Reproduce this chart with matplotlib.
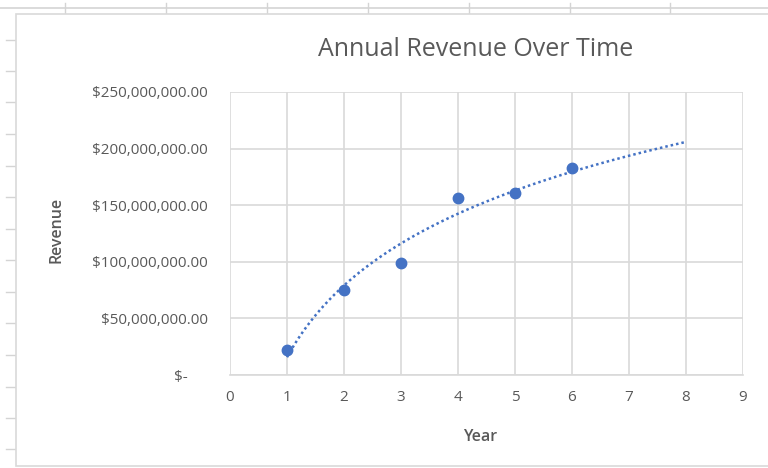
import numpy as np
import matplotlib
matplotlib.use("Agg")
import matplotlib.pyplot as plt
from matplotlib.ticker import FuncFormatter, MultipleLocator
from matplotlib.lines import Line2D
from matplotlib.patches import Rectangle

# Datos anuales
years = np.array([1, 2, 3, 4, 5, 6])
revenue = np.array([22e6, 75e6, 99e6, 156e6, 161e6, 183e6])
trend_end = 8

W, H = 768, 468
blue = "#4472C4"
grid_c = "#D9D9D9"
text_c = "#595959"

plt.rcParams["font.family"] = ["Open Sans", "DejaVu Sans"]

fig = plt.figure(figsize=(W / 100, H / 100), dpi=100)

def fx(x):
    return x / W

def fy(y):
    return 1 - y / H

# Fondo tipo hoja de cálculo
sheet = "#D4D4D4"
fig.add_artist(Line2D([0, 1], [fy(8), fy(8)], color=sheet, lw=1.2, transform=fig.transFigure, zorder=-3))
for x in [65, 166, 267, 368, 469, 570, 670]:
    fig.add_artist(Line2D([fx(x), fx(x)], [fy(3), fy(14)], color=sheet, lw=1, transform=fig.transFigure, zorder=-3))
for y in [40, 71, 102, 134, 166, 197, 229, 260, 292, 323, 355, 387, 418, 449]:
    fig.add_artist(Line2D([fx(6), fx(16)], [fy(y), fy(y)], color=sheet, lw=1, transform=fig.transFigure, zorder=-3))
fig.add_artist(Rectangle((fx(16), fy(466)), 1.0, fy(14) - fy(466), transform=fig.transFigure,
                         facecolor="white", edgecolor=grid_c, lw=1.2, zorder=-2))

ax = fig.add_axes([fx(230), fy(375), fx(743) - fx(230), fy(92) - fy(375)])
ax.set_facecolor("none")

# Línea de tendencia logarítmica
b, a = np.polyfit(np.log(years), revenue, 1)
tx = np.linspace(years[0], trend_end, 200)
ax.plot(tx, a + b * np.log(tx), color=blue, lw=1.8, linestyle=(0, (1, 1.2)),
        dash_capstyle="butt", zorder=3)
ax.plot(years, revenue, "o", color=blue, markersize=7.5, zorder=4)

ax.set_xlim(0, 9)
ax.set_ylim(0, 250e6)
ax.xaxis.set_major_locator(MultipleLocator(1))
ax.yaxis.set_major_locator(MultipleLocator(50e6))

def money(v, pos):
    if v == 0:
        return "$-     "
    return "${:,.2f}".format(v)

ax.yaxis.set_major_formatter(FuncFormatter(money))
ax.grid(True, color=grid_c, lw=1.2)
ax.set_axisbelow(True)
for s in ["top", "right", "left"]:
    ax.spines[s].set_visible(False)
ax.spines["bottom"].set_color(grid_c)
ax.spines["bottom"].set_linewidth(1.2)
ax.tick_params(length=0, colors=text_c, labelsize=11)
ax.tick_params(axis="y", pad=16)
ax.tick_params(axis="x", pad=11)

fig.text(fx(476), fy(50), "Annual Revenue Over Time", ha="center", va="center",
         fontsize=18, color=text_c)
fig.text(fx(57), fy(230), "Revenue", ha="center", va="center", rotation=90,
         fontsize=11.5, color=text_c, fontweight="semibold")
fig.text(fx(480), fy(437), "Year", ha="center", va="center",
         fontsize=11.5, color=text_c, fontweight="semibold")

fig.savefig("out.png", dpi=100)
